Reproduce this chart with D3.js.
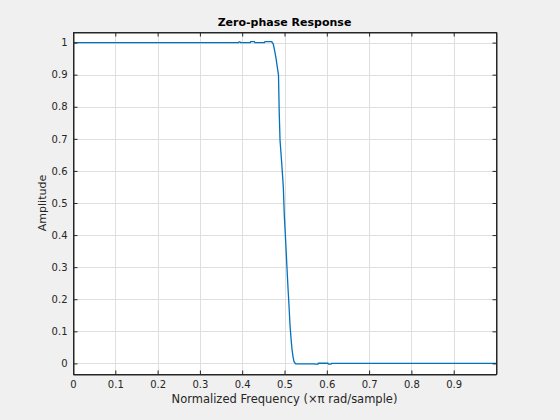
<!DOCTYPE html>
<html><head><meta charset="utf-8">
<script src="https://cdn.jsdelivr.net/npm/d3@7"></script>
<style>
html,body{margin:0;padding:0;background:#f0f0f0;}
svg{display:block;font-family:"DejaVu Sans",sans-serif;}
</style></head><body>
<svg id="c" width="560" height="420"></svg>
<script>
const titleText = "Zero-phase Response";
const xLabelText = "Normalized Frequency (\u00D7\u03C0 rad/sample)";
const yLabelText = "Amplitude";
const xTicks = [0,0.1,0.2,0.3,0.4,0.5,0.6,0.7,0.8,0.9];
const yTicks = [0,0.1,0.2,0.3,0.4,0.5,0.6,0.7,0.8,0.9,1];
const freq = [0,0.3915,0.3925,0.3948,0.396,0.419,0.420,0.4286,0.430,0.4525,0.4539,0.4697,
  0.4712,0.4735,0.4764,0.4799,0.4830,0.4858,0.4875,0.4894,0.4934,0.4972,0.4995,0.5028,
  0.5059,0.5083,0.5106,0.5130,0.5154,0.5177,0.5201,0.5225,0.5265,0.571,0.5722,0.5792,
  0.580,0.6028,0.604,0.610,0.611,1.0];
const amp = [1,1,1.002,1.002,1,1,1.003,1.003,1,1,1.003,1.003,
  1.0,0.9953,0.9766,0.9517,0.9237,0.8988,0.7835,0.6963,0.6246,0.5498,0.4626,0.3798,
  0.2967,0.2343,0.1822,0.1199,0.0785,0.0442,0.0212,0.0056,-0.0015,-0.0015,-0.0025,-0.0025,
  0.0005,0.0005,-0.0025,-0.0025,0,0];

const svg = d3.select("#c");
const L=73, T=32, W=423, H=342;
const x = d3.scaleLinear().domain([0,1]).range([L,L+W]);
const y = d3.scaleLinear().domain([-0.033,1.033]).range([T+H,T]);
const axisCol="#262626", gridCol="#dfdfdf";

svg.append("rect").attr("x",L).attr("y",T).attr("width",W).attr("height",H).attr("fill","#fff");

// grid
const g = svg.append("g");
g.selectAll(".gx").data(xTicks.concat([1])).enter().append("line")
  .attr("x1",d=>Math.round(x(d))+0.5).attr("x2",d=>Math.round(x(d))+0.5)
  .attr("y1",T).attr("y2",T+H).attr("stroke",gridCol).attr("stroke-width",1);
g.selectAll(".gy").data(yTicks).enter().append("line")
  .attr("y1",d=>Math.round(y(d))+0.5).attr("y2",d=>Math.round(y(d))+0.5)
  .attr("x1",L).attr("x2",L+W).attr("stroke",gridCol).attr("stroke-width",1);

// line
const line = d3.line().x((d,i)=>x(freq[i])).y((d,i)=>y(amp[i]));
svg.append("path").datum(amp).attr("d",line).attr("fill","none")
  .attr("stroke","#0072BD").attr("stroke-width",1.3);

// axes
const fmt = d=> d===0?"0":(d===1?"1":d3.format(".1f")(d));
const bx = svg.append("g").attr("transform",`translate(0,${T+H+0.5})`)
  .call(d3.axisBottom(x).tickValues(xTicks).tickSizeInner(-4).tickSizeOuter(0).tickPadding(6.5).tickFormat(fmt));
const tx = svg.append("g").attr("transform",`translate(0,${T+0.5})`)
  .call(d3.axisTop(x).tickValues(xTicks).tickSizeInner(-4).tickSizeOuter(0).tickFormat(""));
const ly = svg.append("g").attr("transform",`translate(${L+0.5},0)`)
  .call(d3.axisLeft(y).tickValues(yTicks).tickSizeInner(-4).tickSizeOuter(0).tickPadding(6).tickFormat(fmt));
const ry = svg.append("g").attr("transform",`translate(${L+W+0.5},0)`)
  .call(d3.axisRight(y).tickValues(yTicks).tickSizeInner(-4).tickSizeOuter(0).tickFormat(""));
[bx,tx,ly,ry].forEach(a=>{
  a.selectAll("path").attr("stroke",axisCol).attr("stroke-width",1);
  a.selectAll("line").attr("stroke",axisCol);
  a.selectAll("text").attr("fill","#262626").attr("font-size","10px").attr("font-family","DejaVu Sans");
});
// box border
svg.append("rect").attr("x",L+0.5).attr("y",T+0.5).attr("width",W).attr("height",H)
  .attr("fill","none").attr("stroke",axisCol).attr("stroke-width",1);

svg.append("text").attr("x",L+W/2).attr("y",26).attr("text-anchor","middle")
  .attr("font-size","11px").attr("font-weight","bold").attr("fill","#000").text(titleText);
svg.append("text").attr("x",L+W/2).attr("y",403).attr("text-anchor","middle")
  .attr("font-size","11.5px").attr("fill","#262626").text(xLabelText);
svg.append("text").attr("transform",`translate(46,${T+H/2}) rotate(-90)`).attr("text-anchor","middle")
  .attr("font-size","11px").attr("fill","#262626").text(yLabelText);
</script></body></html>
